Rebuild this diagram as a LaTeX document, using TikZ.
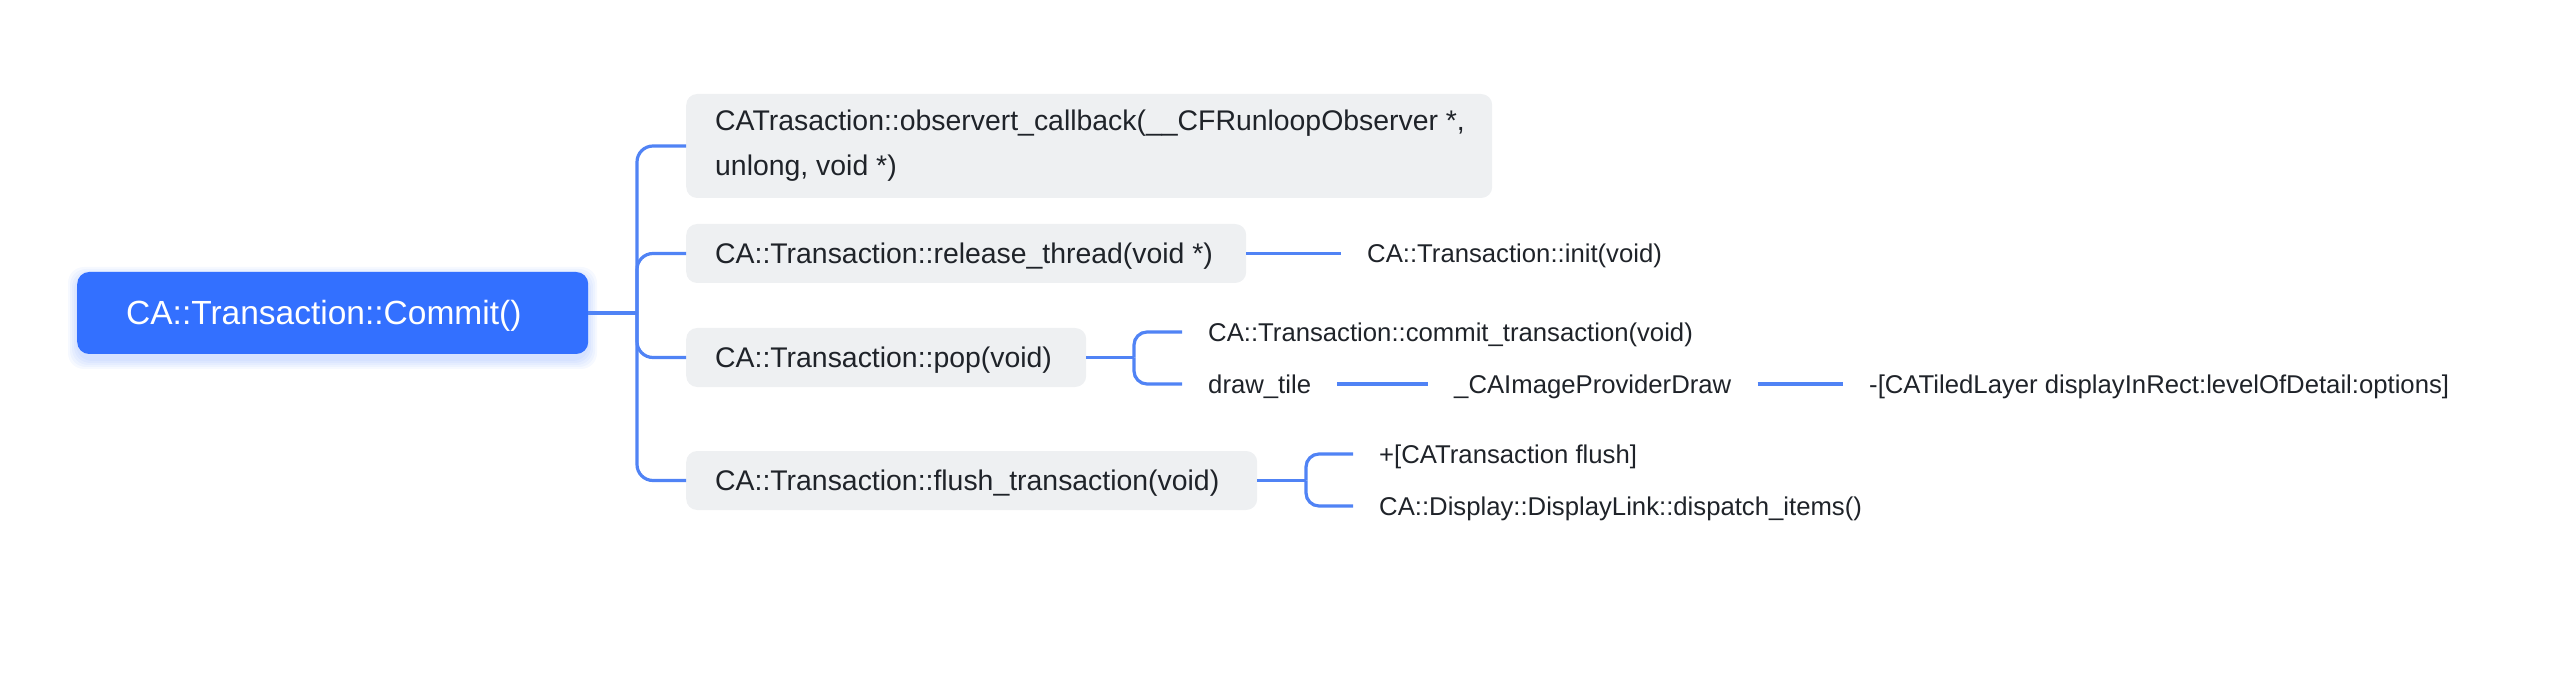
\documentclass[tikz,border=0pt]{standalone}
\usepackage{fontspec}
\setmainfont{Liberation Sans}
\definecolor{rootblue}{HTML}{3370FF}
\definecolor{linkblue}{HTML}{5083F5}
\definecolor{boxgray}{HTML}{EEF0F2}
\definecolor{ink}{HTML}{1F2329}
\newcommand\padtext[3]{\makebox[#1][l]{\hspace*{#2}#3}}
\begin{document}
\begin{tikzpicture}[x=1pt,y=-1pt,
 rootbox/.style={fill=rootblue, rounded corners=12pt, text=white,
   font=\fontsize{33.5}{40}\selectfont, inner xsep=0pt, inner ysep=0pt,
   minimum height=82pt, text height=24pt, text depth=0pt, anchor=west},
 graybox/.style={fill=boxgray, rounded corners=11pt, text=ink,
   font=\fontsize{28.4}{45}\selectfont, inner xsep=0pt, inner ysep=0pt,
   minimum height=59pt, text height=20.3pt, text depth=0pt, anchor=west},
 twoline/.style={fill=boxgray, rounded corners=11pt, text=ink,
   font=\fontsize{28.4}{45}\selectfont, inner xsep=29pt, inner ysep=0pt,
   minimum height=104pt, align=left, anchor=west},
 leaf/.style={text=ink, font=\fontsize{25.7}{30}\selectfont, inner xsep=26pt,
   inner ysep=0pt, text height=18.4pt, text depth=0pt, anchor=west},
 conn/.style={draw=linkblue, line width=3.2pt, rounded corners=16pt},
 smallconn/.style={draw=linkblue, line width=3.2pt, rounded corners=13pt},
 shadowlayer/.style={fill=rootblue, opacity=0.045, rounded corners=16pt},
]
\useasboundingbox (0,0) rectangle (2572,692);

% soft shadow under the root
\foreach \e in {1,3,5,7,9}
  \fill[shadowlayer] (77-\e,276-\e) rectangle (588+\e,360+\e);

% nodes
\node[rootbox] (root) at (77,313) {\padtext{511pt}{49pt}{CA::Transaction::Commit()}};

\node[twoline] (b1) at (686,146) {\padtext{748pt}{0pt}{CATrasaction::observert\_callback(\_\_CFRunloopObserver *,}\\unlong, void *)};
\node[graybox] (b2) at (686,253.5) {\padtext{560pt}{29pt}{CA::Transaction::release\_thread(void *)}};
\node[graybox] (b3) at (686,357.5) {\padtext{400pt}{29pt}{CA::Transaction::pop(void)}};
\node[graybox] (b4) at (686,480.5) {\padtext{571pt}{29pt}{CA::Transaction::flush\_transaction(void)}};

\node[leaf] (init) at (1341,253.5) {CA::Transaction::init(void)};
\node[leaf] (commit) at (1182,332) {CA::Transaction::commit\_transaction(void)};
\node[leaf] (drawtile) at (1182,384) {draw\_tile};
\node[leaf] (cai) at (1428,384) {\_CAImageProviderDraw};
\node[leaf] (cat) at (1843,384) {-[CATiledLayer displayInRect:levelOfDetail:options]};
\node[leaf] (flush) at (1353,454) {+[CATransaction flush]};
\node[leaf] (dispatch) at (1353,506) {CA::Display::DisplayLink::dispatch\_items()};

% junctions
\coordinate (j0) at (637,313);
\coordinate (j3) at (1134,357.5);
\coordinate (j4) at (1306,480.5);

% connectors
\draw[conn] (root.east) -- (j0);
\draw[conn] (j0) |- (b1.west);
\draw[conn] (j0) |- (b2.west);
\draw[conn] (j0) |- (b3.west);
\draw[conn] (j0) |- (b4.west);

\draw[conn] (b2.east) -- (init.west);

\draw[smallconn] (b3.east) -- (j3);
\draw[smallconn] (j3) |- (commit.west);
\draw[smallconn] (j3) |- (drawtile.west);
\draw[conn] (drawtile.east) -- (cai.west);
\draw[conn] (cai.east) -- (cat.west);

\draw[smallconn] (b4.east) -- (j4);
\draw[smallconn] (j4) |- (flush.west);
\draw[smallconn] (j4) |- (dispatch.west);
\end{tikzpicture}
\end{document}
